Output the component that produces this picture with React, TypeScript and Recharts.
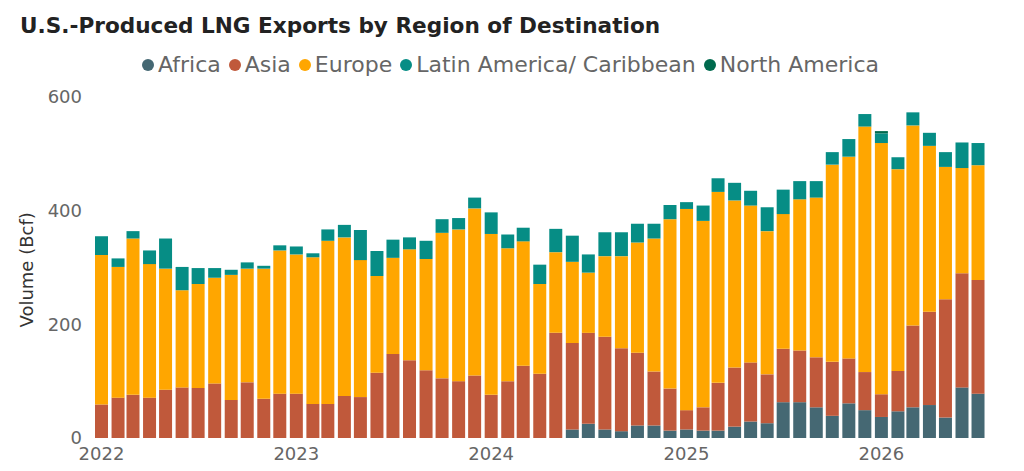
import React from "react";
import { BarChart, Bar, XAxis, YAxis } from "recharts";

const years = [2022, 2023, 2024, 2025, 2026];
const monthsPerYear = [12, 12, 12, 12, 7];

const africa = [
  0,0,0,0,0,0,0,0,0,0,0,0,
  0,0,0,0,0,0,0,0,0,0,0,0,
  0,0,0,0,0,15,25,15,12,22,22,13,
  15,13,13,20,29,26,63,63,54,39,61,49,
  37,47,54,58,36,89,78,
];
const asia = [
  59,71,76,71,85,89,88,96,67,98,69,78,
  78,60,60,74,72,115,148,137,119,105,100,110,
  76,100,127,113,185,152,160,163,146,128,95,74,
  34,41,84,104,104,86,94,91,88,95,79,67,
  40,71,144,164,208,201,200,
];
const europe = [
  263,230,275,235,213,171,183,186,220,200,229,252,
  245,258,287,279,241,170,169,195,196,256,267,294,
  283,234,219,158,142,143,106,142,162,194,234,298,
  354,328,336,294,276,252,237,266,281,347,355,432,
  442,355,352,292,233,185,202,
];
const latam = [
  33,15,13,24,53,41,28,17,9,11,5,9,
  14,7,20,22,53,44,32,21,32,24,20,19,
  38,24,24,34,41,46,32,42,42,33,26,25,
  12,27,24,31,26,42,43,32,29,22,31,22,
  17,21,23,23,26,45,39,
];
const northAmerica = [
  0,0,0,0,0,0,0,0,0,0,0,0,
  0,0,0,0,0,0,0,0,0,0,0,0,
  0,0,0,0,0,0,0,0,0,0,0,0,
  0,0,0,0,0,0,0,0,0,0,0,0,
  4,0,0,0,0,0,0,
];

const series = [
  { key: "africa", name: "Africa", color: "#456873", values: africa },
  { key: "asia", name: "Asia", color: "#C0593B", values: asia },
  { key: "europe", name: "Europe", color: "#FFA600", values: europe },
  { key: "latam", name: "Latin America/ Caribbean", color: "#068D85", values: latam },
  { key: "na", name: "North America", color: "#006A4E", values: northAmerica },
];

const dates: number[] = [];
years.forEach((y, yi) => {
  for (let m = 0; m < monthsPerYear[yi]; m++) dates.push(Date.UTC(y, m, 1));
});
const rows = dates.map((t, i) => {
  const row: Record<string, number> = { t };
  series.forEach((s) => (row[s.key] = s.values[i]));
  return row;
});

const DAY = 86400000;
const xDomain = [dates[0] - 21.5 * DAY, dates[dates.length - 1] + 22.5 * DAY];
const xTicks = years.map((y) => Date.UTC(y, 0, 1));
const yTicks = [0, 200, 400, 600];
const FONT = "'DejaVu Sans', sans-serif";

export default function App() {
  return (
    <div style={{ position: "absolute", left: 0, top: 0, width: 1024, height: 471, background: "#fff", fontFamily: FONT }}>
      <div style={{ position: "absolute", left: 20, top: 13, fontSize: 21.6, fontWeight: 700, color: "#222", whiteSpace: "nowrap" }}>
        U.S.-Produced LNG Exports by Region of Destination
      </div>
      <div style={{ position: "absolute", left: 142, top: 52, display: "flex", alignItems: "center", fontSize: 22, color: "#666", whiteSpace: "nowrap" }}>
        {series.map((s) => (
          <span key={s.key} style={{ display: "inline-flex", alignItems: "center", marginRight: 8 }}>
            <span style={{ width: 12, height: 12, borderRadius: "50%", background: s.color, marginRight: 4 }} />
            {s.name}
          </span>
        ))}
      </div>
      <BarChart width={1024} height={471} data={rows} margin={{ top: 97, right: 34, bottom: 0, left: 10 }} style={{ position: "absolute", left: 0, top: 0 }}>
        <XAxis
          dataKey="t"
          type="number"
          scale="time"
          domain={xDomain}
          ticks={xTicks}
          tickFormatter={(v: number) => String(new Date(v).getUTCFullYear())}
          axisLine={false}
          tickLine={false}
          tickMargin={3}
          height={33}
          interval={0}
          tick={{ fontSize: 18, fill: "#666", fontFamily: FONT }}
        />
        <YAxis
          type="number"
          domain={[0, 600]}
          ticks={yTicks}
          axisLine={false}
          tickLine={false}
          width={80}
          tickMargin={2}
          tick={{ fontSize: 18, fill: "#666", fontFamily: FONT }}
          label={{ value: "Volume (Bcf)", angle: -90, position: "insideLeft", dx: 12, dy: 60, style: { fontSize: 18, fill: "#333", fontFamily: FONT } }}
        />
        {series.map((s) => (
          <Bar key={s.key} dataKey={s.key} name={s.name} stackId="a" fill={s.color} barSize={13} isAnimationActive={false} />
        ))}
      </BarChart>
    </div>
  );
}
